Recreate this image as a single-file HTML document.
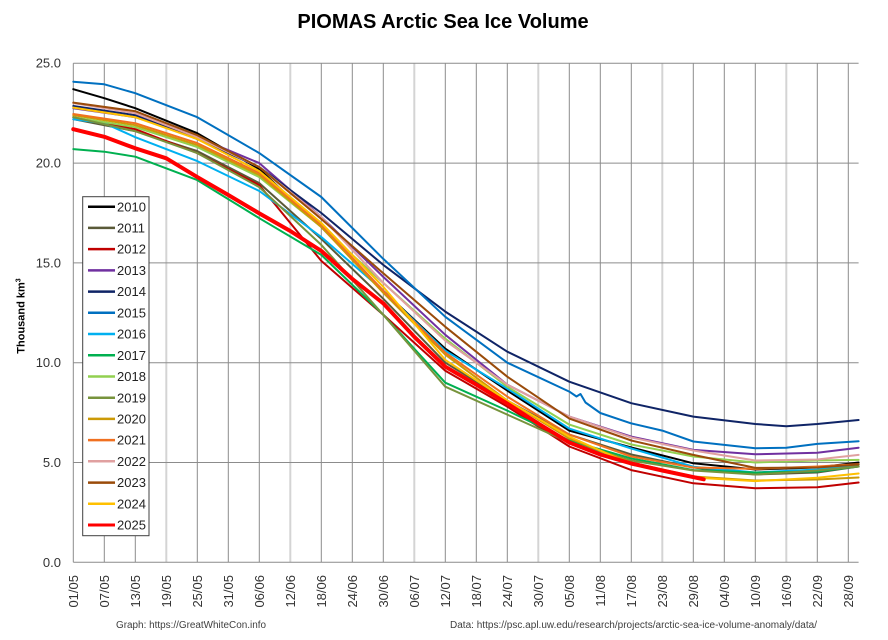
<!DOCTYPE html>
<html>
<head>
<meta charset="utf-8">
<style>
  html,body{margin:0;padding:0;background:#fff;}
  svg{display:block;}
  text{font-family:"Liberation Sans",Arial,sans-serif;}
</style>
</head>
<body>
<svg width="888" height="640" viewBox="0 0 888 640" xmlns="http://www.w3.org/2000/svg">
  <rect x="0" y="0" width="888" height="640" fill="#fff"/>
  <!-- Title -->
  <text x="443" y="28" text-anchor="middle" font-size="20" font-weight="bold" fill="#000">PIOMAS Arctic Sea Ice Volume</text>

  <!-- vertical gridlines (dark) -->
  <g stroke="#8c8c8c" stroke-width="1">
    <line x1="104.3" y1="63.3" x2="104.3" y2="562.3"/>
    <line x1="135.3" y1="63.3" x2="135.3" y2="562.3"/>
    <line x1="197.3" y1="63.3" x2="197.3" y2="562.3"/>
    <line x1="228.3" y1="63.3" x2="228.3" y2="562.3"/>
    <line x1="259.3" y1="63.3" x2="259.3" y2="562.3"/>
    <line x1="321.3" y1="63.3" x2="321.3" y2="562.3"/>
    <line x1="352.3" y1="63.3" x2="352.3" y2="562.3"/>
    <line x1="383.3" y1="63.3" x2="383.3" y2="562.3"/>
    <line x1="445.3" y1="63.3" x2="445.3" y2="562.3"/>
    <line x1="476.3" y1="63.3" x2="476.3" y2="562.3"/>
    <line x1="507.3" y1="63.3" x2="507.3" y2="562.3"/>
    <line x1="569.3" y1="63.3" x2="569.3" y2="562.3"/>
    <line x1="600.3" y1="63.3" x2="600.3" y2="562.3"/>
    <line x1="631.3" y1="63.3" x2="631.3" y2="562.3"/>
    <line x1="693.3" y1="63.3" x2="693.3" y2="562.3"/>
    <line x1="724.3" y1="63.3" x2="724.3" y2="562.3"/>
    <line x1="755.3" y1="63.3" x2="755.3" y2="562.3"/>
    <line x1="817.3" y1="63.3" x2="817.3" y2="562.3"/>
    <line x1="848.3" y1="63.3" x2="848.3" y2="562.3"/>
  </g>
  <!-- vertical gridlines (light) -->
  <g stroke="#d4d4d4" stroke-width="2">
    <line x1="166.3" y1="63.3" x2="166.3" y2="562.3"/>
    <line x1="290.3" y1="63.3" x2="290.3" y2="562.3"/>
    <line x1="414.3" y1="63.3" x2="414.3" y2="562.3"/>
    <line x1="538.3" y1="63.3" x2="538.3" y2="562.3"/>
    <line x1="662.3" y1="63.3" x2="662.3" y2="562.3"/>
    <line x1="786.3" y1="63.3" x2="786.3" y2="562.3"/>
  </g>
  <!-- horizontal gridlines -->
  <g stroke="#8c8c8c" stroke-width="1">
    <line x1="73.3" y1="63.3" x2="858.6" y2="63.3"/>
    <line x1="73.3" y1="163.1" x2="858.6" y2="163.1"/>
    <line x1="73.3" y1="262.9" x2="858.6" y2="262.9"/>
    <line x1="73.3" y1="362.7" x2="858.6" y2="362.7"/>
    <line x1="73.3" y1="462.5" x2="858.6" y2="462.5"/>
    <line x1="73.3" y1="562.3" x2="858.6" y2="562.3"/>
    <line x1="73.3" y1="63.3" x2="73.3" y2="562.3"/>
  </g>

  <!-- Y labels -->
  <g font-size="13" fill="#333" text-anchor="end">
    <text x="61" y="67.6">25.0</text>
    <text x="61" y="167.6">20.0</text>
    <text x="61" y="267.4">15.0</text>
    <text x="61" y="367.2">10.0</text>
    <text x="61" y="467.0">5.0</text>
    <text x="61" y="566.8">0.0</text>
  </g>
  <text transform="translate(24.5,316) rotate(-90)" text-anchor="middle" font-size="11" font-weight="bold" fill="#000">Thousand km<tspan font-size="7" dy="-4">3</tspan></text>

  <!-- X labels -->
  <g font-size="13" fill="#333" text-anchor="end">
    <text transform="translate(77.8,575) rotate(-90)">01/05</text>
    <text transform="translate(108.8,575) rotate(-90)">07/05</text>
    <text transform="translate(139.8,575) rotate(-90)">13/05</text>
    <text transform="translate(170.8,575) rotate(-90)">19/05</text>
    <text transform="translate(201.8,575) rotate(-90)">25/05</text>
    <text transform="translate(232.8,575) rotate(-90)">31/05</text>
    <text transform="translate(263.8,575) rotate(-90)">06/06</text>
    <text transform="translate(294.8,575) rotate(-90)">12/06</text>
    <text transform="translate(325.8,575) rotate(-90)">18/06</text>
    <text transform="translate(356.8,575) rotate(-90)">24/06</text>
    <text transform="translate(387.8,575) rotate(-90)">30/06</text>
    <text transform="translate(418.8,575) rotate(-90)">06/07</text>
    <text transform="translate(449.8,575) rotate(-90)">12/07</text>
    <text transform="translate(480.8,575) rotate(-90)">18/07</text>
    <text transform="translate(511.8,575) rotate(-90)">24/07</text>
    <text transform="translate(542.8,575) rotate(-90)">30/07</text>
    <text transform="translate(573.8,575) rotate(-90)">05/08</text>
    <text transform="translate(604.8,575) rotate(-90)">11/08</text>
    <text transform="translate(635.8,575) rotate(-90)">17/08</text>
    <text transform="translate(666.8,575) rotate(-90)">23/08</text>
    <text transform="translate(697.8,575) rotate(-90)">29/08</text>
    <text transform="translate(728.8,575) rotate(-90)">04/09</text>
    <text transform="translate(759.8,575) rotate(-90)">10/09</text>
    <text transform="translate(790.8,575) rotate(-90)">16/09</text>
    <text transform="translate(821.8,575) rotate(-90)">22/09</text>
    <text transform="translate(852.8,575) rotate(-90)">28/09</text>
  </g>

  <!-- Series -->
  <g fill="none" stroke-width="2" stroke-linejoin="round" stroke-linecap="round">
    <polyline stroke="#000000" points="73.3,89.2 104.3,98.2 135.3,108.2 197.3,133.2 259.3,169.1 321.3,227.0 383.3,290.8 445.3,348.7 507.3,390.6 569.3,430.6 631.3,447.5 693.3,463.3 755.3,469.5 817.3,467.5 858.6,462.5"/>
    <polyline stroke="#5a5a38" points="73.3,119.2 135.3,131.2 197.3,151.1 259.3,183.1 321.3,238.9 383.3,298.8 445.3,362.7 507.3,400.6 569.3,434.6 631.3,454.5 693.3,467.5 755.3,474.5 817.3,472.5 858.6,466.5"/>
    <polyline stroke="#c00000" points="73.3,117.2 135.3,129.2 197.3,153.1 259.3,185.1 321.3,260.9 383.3,314.8 445.3,370.7 507.3,406.6 569.3,446.5 631.3,470.1 693.3,483.3 755.3,488.2 817.3,487.3 858.6,482.5"/>
    <polyline stroke="#7030a0" points="73.3,108.2 135.3,117.2 197.3,137.2 259.3,163.1 321.3,217.0 383.3,276.9 445.3,334.8 507.3,384.7 569.3,416.6 631.3,436.6 693.3,449.9 755.3,454.3 817.3,452.7 858.6,447.7"/>
    <polyline stroke="#0f2466" points="73.3,106.0 135.3,115.2 197.3,139.1 259.3,167.1 321.3,213.0 383.3,264.9 445.3,311.6 507.3,351.7 569.3,381.7 631.3,403.2 693.3,416.6 755.3,424.0 786.3,426.2 817.3,424.0 858.6,420.0"/>
    <polyline stroke="#0070c0" points="73.3,81.7 104.3,84.3 135.3,93.2 197.3,117.2 259.3,153.1 321.3,197.0 383.3,258.9 445.3,316.8 507.3,362.7 569.3,391.6 576.5,396.5 580.5,394.0 585.5,402.5 600.3,413.0 631.3,423.4 662.3,430.6 693.3,441.5 755.3,448.3 786.3,447.7 817.3,443.9 858.6,441.3"/>
    <polyline stroke="#00b0f0" points="73.3,119.2 104.3,123.2 135.3,137.2 197.3,161.1 259.3,191.0 321.3,237.0 383.3,290.8 445.3,350.7 507.3,388.6 569.3,428.6 631.3,448.5 693.3,466.7 755.3,472.5 817.3,469.5 858.6,464.5"/>
    <polyline stroke="#00b050" points="73.3,149.1 104.3,151.7 135.3,156.7 197.3,180.1 259.3,218.2 321.3,254.9 383.3,314.8 445.3,382.7 507.3,410.6 569.3,440.5 631.3,458.5 693.3,470.1 755.3,472.5 817.3,471.5 858.6,466.5"/>
    <polyline stroke="#92d050" points="73.3,117.2 135.3,127.2 197.3,147.1 259.3,177.1 321.3,227.0 383.3,282.9 445.3,338.7 507.3,386.7 569.3,424.6 631.3,444.5 693.3,456.5 755.3,462.5 817.3,460.5 858.6,459.9"/>
    <polyline stroke="#77933c" points="73.3,117.2 135.3,131.2 197.3,153.1 259.3,187.1 321.3,244.9 383.3,314.8 445.3,386.7 507.3,414.6 569.3,442.5 631.3,460.5 693.3,470.5 755.3,474.5 817.3,470.5 858.6,466.5"/>
    <polyline stroke="#cc9a06" points="73.3,115.2 135.3,125.2 197.3,145.1 259.3,175.1 321.3,227.0 383.3,292.8 445.3,354.7 507.3,400.6 569.3,438.5 631.3,462.5 693.3,476.5 755.3,480.5 817.3,479.5 858.6,477.5"/>
    <polyline stroke="#f07020" points="73.3,114.0 135.3,123.2 197.3,143.1 259.3,173.1 321.3,225.0 383.3,290.8 445.3,352.7 507.3,396.6 569.3,434.6 631.3,456.5 693.3,467.5 755.3,468.9 817.3,466.5 858.6,464.1"/>
    <polyline stroke="#e0a0a0" points="73.3,103.2 135.3,113.2 197.3,137.2 259.3,167.1 321.3,217.0 383.3,282.9 445.3,340.7 507.3,384.7 569.3,416.6 631.3,437.5 693.3,450.5 755.3,460.5 817.3,459.5 858.6,454.9"/>
    <polyline stroke="#9a4b0a" points="73.3,102.6 135.3,111.2 197.3,135.2 259.3,167.1 321.3,219.0 383.3,273.3 445.3,326.8 507.3,376.7 569.3,418.6 631.3,440.5 693.3,454.9 755.3,467.9 817.3,467.5 858.6,464.5"/>
    <polyline stroke="#ffc000" points="73.3,107.6 135.3,117.2 197.3,139.1 259.3,171.1 321.3,223.0 383.3,286.9 445.3,359.9 507.3,400.6 569.3,436.6 631.3,464.5 693.3,477.5 755.3,481.1 817.3,477.7 858.6,473.5"/>
    <polyline stroke="#ff0000" stroke-width="4" points="73.3,129.2 104.3,136.8 135.3,148.3 166.3,158.3 197.3,177.1 228.3,195.0 259.3,213.4 290.3,231.0 321.3,250.9 352.3,278.9 383.3,303.4 414.3,336.8 445.3,366.7 476.3,384.7 507.3,403.6 538.3,423.6 569.3,442.5 600.3,454.5 631.3,463.5 662.3,470.5 703.7,479.3"/>
  </g>

  <!-- Legend -->
  <rect x="82.7" y="196.7" width="66.3" height="339" fill="#fff" stroke="#404040" stroke-width="1"/>
  <g stroke-width="2.5">
    <line x1="88" y1="206.7" x2="115" y2="206.7" stroke="#000000"/>
    <line x1="88" y1="227.9" x2="115" y2="227.9" stroke="#5a5a38"/>
    <line x1="88" y1="249.1" x2="115" y2="249.1" stroke="#c00000"/>
    <line x1="88" y1="270.4" x2="115" y2="270.4" stroke="#7030a0"/>
    <line x1="88" y1="291.6" x2="115" y2="291.6" stroke="#0f2466"/>
    <line x1="88" y1="312.8" x2="115" y2="312.8" stroke="#0070c0"/>
    <line x1="88" y1="334.0" x2="115" y2="334.0" stroke="#00b0f0"/>
    <line x1="88" y1="355.2" x2="115" y2="355.2" stroke="#00b050"/>
    <line x1="88" y1="376.5" x2="115" y2="376.5" stroke="#92d050"/>
    <line x1="88" y1="397.7" x2="115" y2="397.7" stroke="#77933c"/>
    <line x1="88" y1="418.9" x2="115" y2="418.9" stroke="#cc9a06"/>
    <line x1="88" y1="440.1" x2="115" y2="440.1" stroke="#f07020"/>
    <line x1="88" y1="461.3" x2="115" y2="461.3" stroke="#e0a0a0"/>
    <line x1="88" y1="482.6" x2="115" y2="482.6" stroke="#9a4b0a"/>
    <line x1="88" y1="503.8" x2="115" y2="503.8" stroke="#ffc000"/>
    <line x1="88" y1="525.0" x2="115" y2="525.0" stroke="#ff0000" stroke-width="3"/>
  </g>
  <g font-size="13" fill="#222">
    <text x="117" y="211.3">2010</text>
    <text x="117" y="232.5">2011</text>
    <text x="117" y="253.7">2012</text>
    <text x="117" y="275.0">2013</text>
    <text x="117" y="296.2">2014</text>
    <text x="117" y="317.4">2015</text>
    <text x="117" y="338.6">2016</text>
    <text x="117" y="359.8">2017</text>
    <text x="117" y="381.1">2018</text>
    <text x="117" y="402.3">2019</text>
    <text x="117" y="423.5">2020</text>
    <text x="117" y="444.7">2021</text>
    <text x="117" y="465.9">2022</text>
    <text x="117" y="487.2">2023</text>
    <text x="117" y="508.4">2024</text>
    <text x="117" y="529.6">2025</text>
  </g>

  <!-- Footer -->
  <text x="116" y="628" font-size="10" fill="#404040" textLength="150" lengthAdjust="spacingAndGlyphs">Graph: https://GreatWhiteCon.info</text>
  <text x="450" y="628" font-size="10" fill="#404040" textLength="367" lengthAdjust="spacingAndGlyphs">Data:  https://psc.apl.uw.edu/research/projects/arctic-sea-ice-volume-anomaly/data/</text>
</svg>
</body>
</html>
